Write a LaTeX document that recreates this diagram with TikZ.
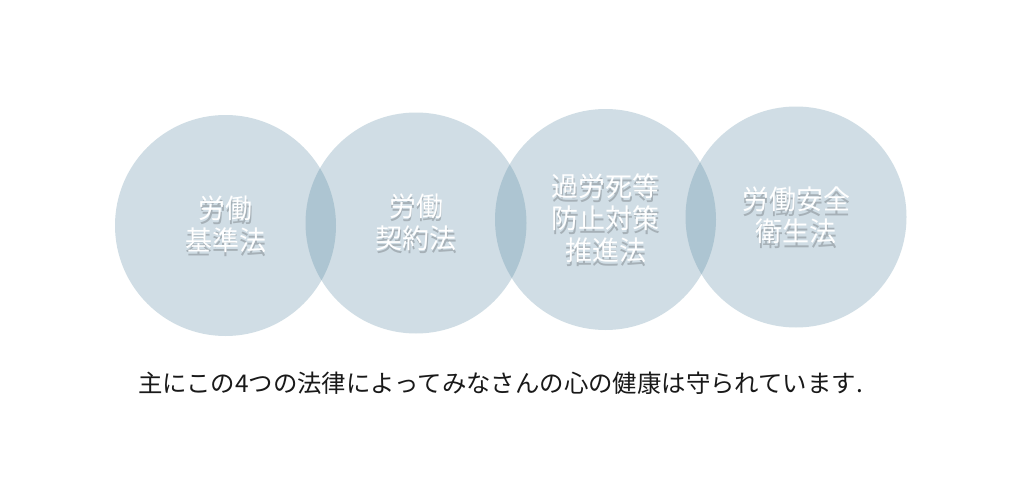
\documentclass[tikz,border=0pt]{standalone}
\usepackage{fontspec}
\setmainfont{Noto Sans CJK JP}
\newfontfamily\jpfont{Noto Sans CJK JP}
\definecolor{circfill}{RGB}{82,133,159}
\definecolor{captext}{RGB}{25,25,25}
\begin{document}
\begin{tikzpicture}[x=1pt,y=-1pt,
  lawcircle/.style={circle,minimum size=221pt,inner sep=0pt,fill=circfill,fill opacity=0.27,draw=none},
  lawtext/.style={align=center,text=white,font=\jpfont\fontsize{27}{32}\selectfont,inner sep=0pt},
  lawshadow/.style={align=center,text=black,text opacity=0.2,font=\jpfont\fontsize{27}{32}\selectfont,inner sep=0pt},
  caption/.style={text=captext,font=\jpfont\fontsize{24.4}{28}\selectfont,inner sep=0pt}]
\useasboundingbox (0,0) rectangle (1024,487);
\fill[white] (0,0) rectangle (1024,487);
\node[lawcircle] (c1) at (225.5,225.5) {};
\node[lawcircle] (c2) at (416,223) {};
\node[lawcircle] (c3) at (605.5,219.5) {};
\node[lawcircle] (c4) at (796,217) {};
% soft shadows under the white labels
\node[lawshadow] (s1) at ([shift={(0.6,3)}]c1.center) {労働\\基準法};
\node[lawshadow] (s2) at ([shift={(0.6,2.5)}]c2.center) {労働\\契約法};
\node[lawshadow] (s3) at ([shift={(0.6,2.5)}]c3.center) {過労死等\\防止対策\\推進法};
\node[lawshadow] (s4) at ([shift={(0.6,3.5)}]c4.center) {労働安全\\衛生法};
\node[lawtext] (t1) at ([yshift=1.5pt]c1.center) {労働\\基準法};
\node[lawtext] (t2) at ([yshift=1pt]c2.center) {労働\\契約法};
\node[lawtext] (t3) at ([yshift=1pt]c3.center) {過労死等\\防止対策\\推進法};
\node[lawtext] (t4) at ([yshift=2pt]c4.center) {労働安全\\衛生法};
\node[caption] (cap) at (500.5,383) {主にこの4つの法律によってみなさんの心の健康は守られています.};
\end{tikzpicture}
\end{document}
